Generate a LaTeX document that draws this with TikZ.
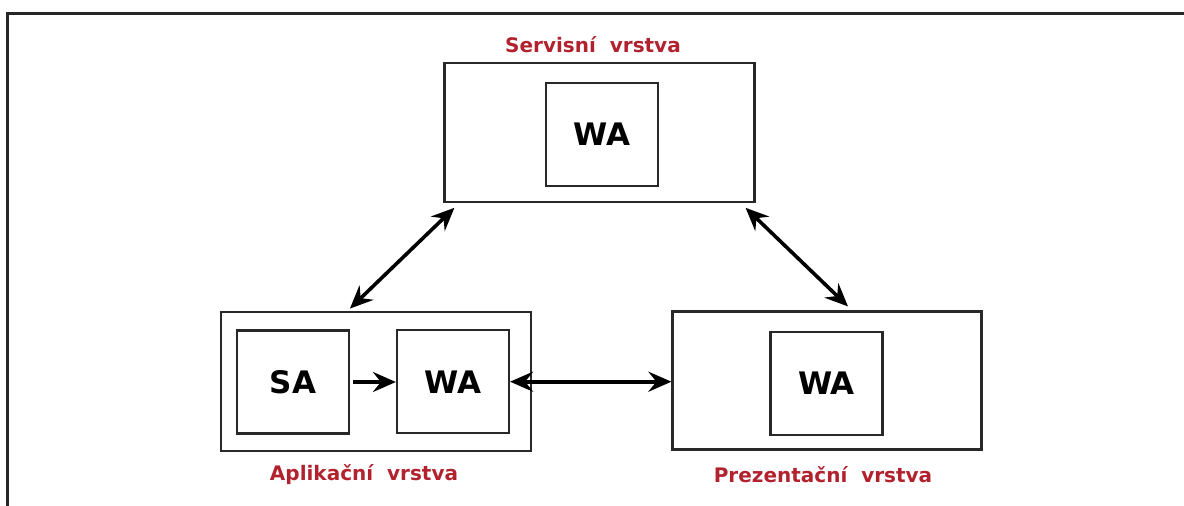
\documentclass[tikz,border=0pt]{standalone}
\usepackage{fontspec}
\setmainfont{DejaVu Sans}
\usetikzlibrary{arrows.meta,calc}
\definecolor{layerred}{RGB}{178,34,46}
\definecolor{boxline}{RGB}{40,40,40}
\begin{document}
\begin{tikzpicture}[x=1pt,y=-1pt,
  layerbox/.style={draw=boxline,line width=2.2pt,minimum width=310pt,minimum height=139pt,inner sep=0pt},
  appbox/.style={draw=boxline,line width=2.2pt,minimum width=112pt,minimum height=103pt,inner sep=0pt,
    font=\fontsize{31}{31}\selectfont\bfseries},
  layerlabel/.style={text=layerred,font=\fontsize{20}{20}\selectfont\bfseries},
  link/.style={line width=3.6pt,{Stealth[length=23pt,width=20pt,inset=8pt]}-{Stealth[length=23pt,width=20pt,inset=8pt]}},
  flow/.style={line width=3.6pt,-{Stealth[length=23pt,width=20pt,inset=8pt]}}]
\useasboundingbox (0,0) rectangle (1184,506);
% page frame: top and left rules only
\draw[line width=3pt,black!85] (7.5,506) -- (7.5,13) -- (1184,13);

% service layer
\node[layerbox] (serv) at (599.5,132.2) {};
\node[appbox] (servwa) at (602,134.2) {WA};
\node[layerlabel] (servlbl) at (593,45) {Servisní\ \ vrstva};

% application layer
\node[layerbox] (app) at (375.9,381.2) {};
\node[appbox] (appsa) at (292.9,382) {SA};
\node[appbox] (appwa) at (453,381.7) {WA};
\node[layerlabel] (applbl) at (364,475) {Aplikační\ \ vrstva};

% presentation layer
\node[layerbox,minimum width=309pt,minimum height=138pt] (pres) at (827,380.5) {};
\node[appbox] (preswa) at (826.4,383.5) {WA};
\node[layerlabel] (preslbl) at (823,475) {Prezentační\ \ vrstva};

% connections between layers
\coordinate (sl) at ($(serv.south west)+(11,5)$);
\coordinate (al) at ($(app.north)+(-26,-2)$);
\coordinate (sr) at ($(serv.south east)+(-10,5)$);
\coordinate (pr) at ($(pres.north)+(21,-4)$);
\draw[link] (sl) -- (al);
\draw[link] (sr) -- (pr);
\draw[link] (appwa.east) -- (pres.west |- appwa.east);
\draw[flow,shorten <=3pt] (appsa.east) -- (appwa.west |- appsa.east);
\end{tikzpicture}
\end{document}
